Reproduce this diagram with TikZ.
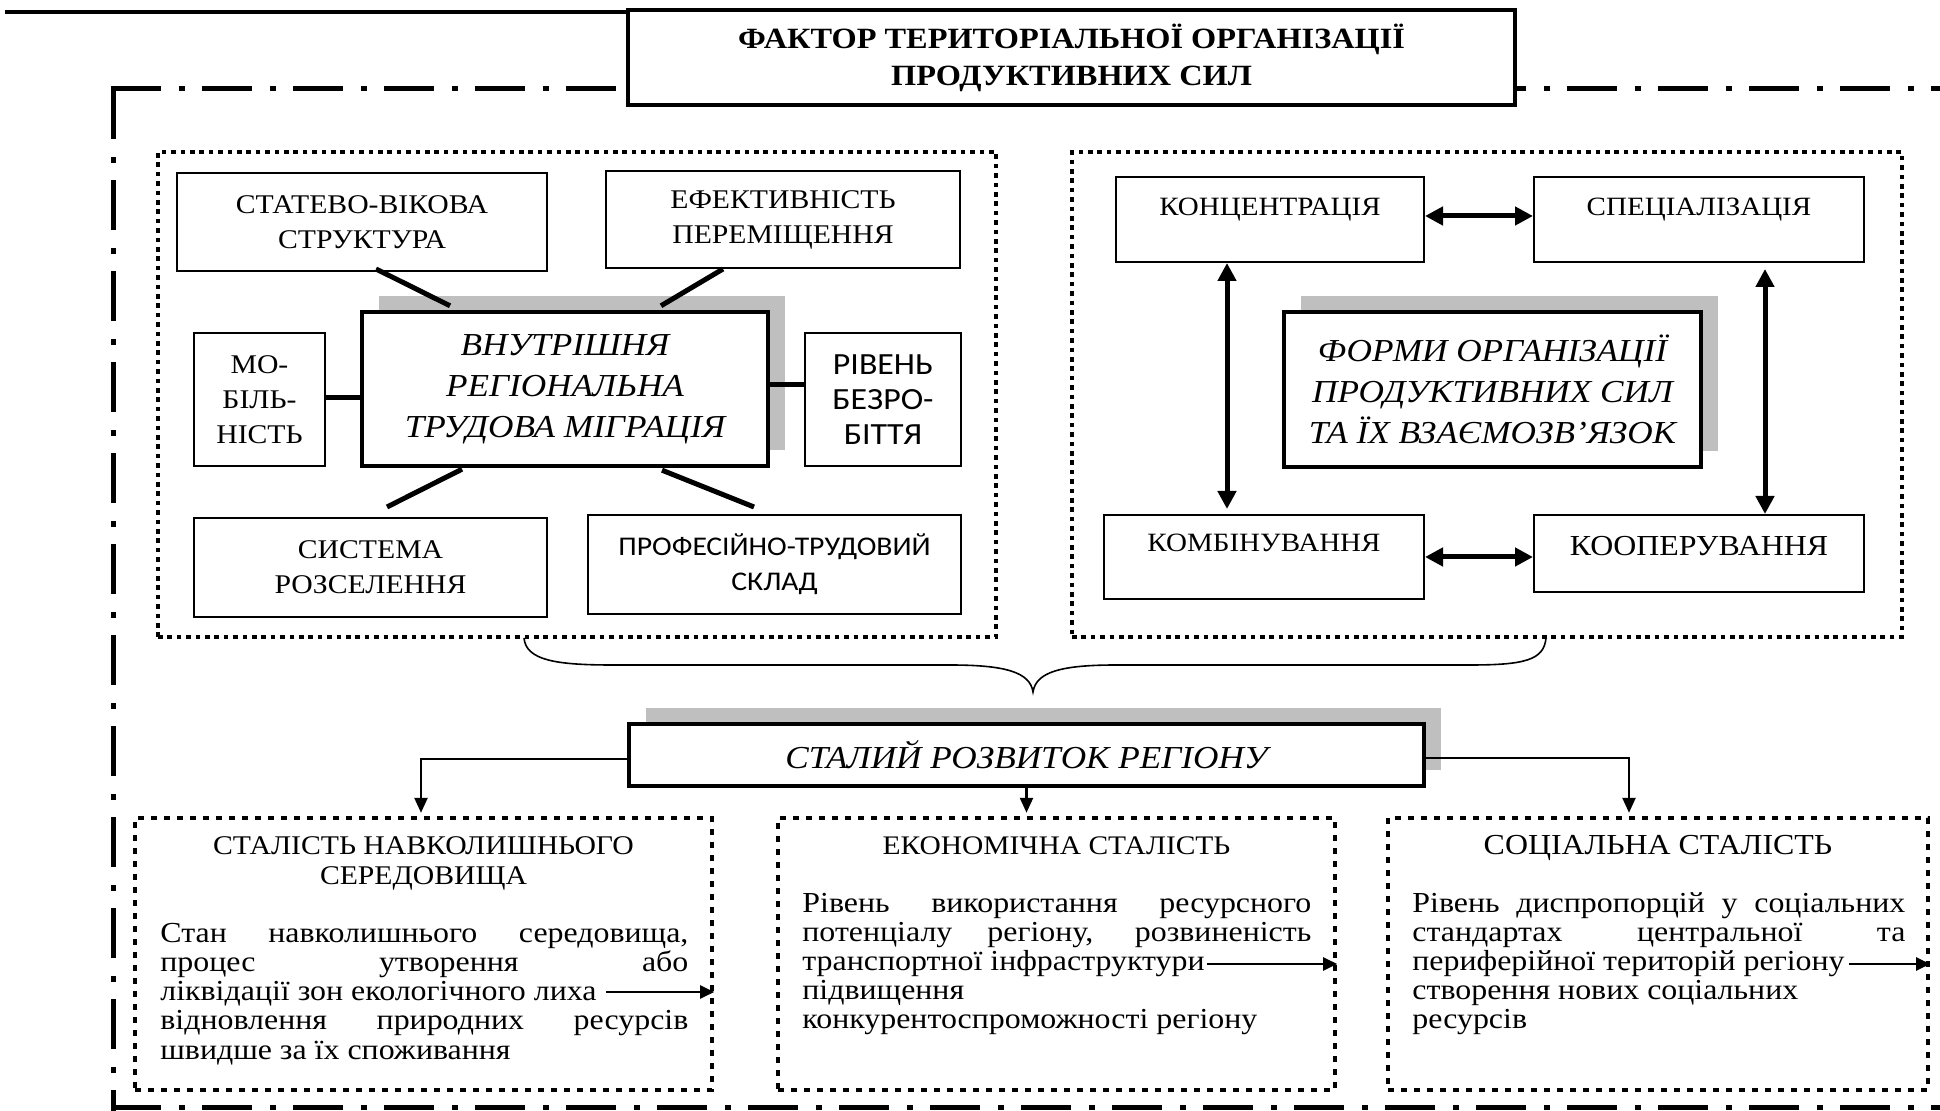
\documentclass[tikz,border=0pt]{standalone}
\usepackage{fontspec}
\setmainfont{Liberation Serif}[FakeStretch=1.1]
\newfontfamily\calib{Carlito}[FakeStretch=1.1]
\usetikzlibrary{arrows.meta,calc,shadows}
\definecolor{shadowgray}{RGB}{191,191,191}
\tikzset{
 frameline/.style={line width=2.5pt, dash pattern=on 25pt off 9pt on 3pt off 8.5pt},
 dotpanel/.style={draw, rectangle, inner sep=0pt, line width=2pt, dash pattern=on 2.3pt off 2.4pt},
 dotpanelb/.style={draw, rectangle, inner sep=0pt, line width=2.2pt, dash pattern=on 3pt off 3.5pt},
 box/.style={draw, rectangle, line width=1pt, fill=white, inner sep=0pt, align=center, font=\fontsize{13.5}{17.5}\selectfont},
 mainbox/.style={draw, rectangle, line width=2.2pt, fill=white, inner sep=0pt, align=center,
   font=\itshape\fontsize{16}{20.5}\selectfont,
   drop shadow={shadow xshift=8.25pt, shadow yshift=7.75pt, fill=shadowgray, opacity=1}},
 link/.style={line width=2.5pt},
 dbl/.style={line width=2.5pt, {Triangle[length=9pt,width=9pt]}-{Triangle[length=9pt,width=9pt]}},
 thinarrow/.style={line width=1.2pt, -{Triangle[length=7.5pt,width=6.5pt]}},
 bodyarrow/.style={line width=1.1pt, -{Triangle[length=7pt,width=6.5pt]}},
 lbl/.style={inner sep=0pt, anchor=base, font=\fontsize{13.2}{16}\selectfont},
 hdr/.style={inner sep=0pt, anchor=base, font=\fontsize{13.5}{15}\selectfont},
 bodyline/.style={inner sep=0pt, anchor=base west, font=\fontsize{14.5}{14.6}\selectfont},
}
\begin{document}
\begin{tikzpicture}[x=0.5pt,y=-0.5pt]
\useasboundingbox (0,0) rectangle (1940,1111);
\clip (0,0) rectangle (1940,1111);

% outer dash-dot frame
\coordinate (fTL) at (111,89);
\coordinate (fTR) at (1960,89);
\coordinate (fLT) at (113,89);
\coordinate (fLB) at (113,1120);
\coordinate (fBL) at (111,1108);
\coordinate (fBR) at (1960,1108);
\draw[frameline] (fTL) -- (fTR);
\draw[frameline] (fLT) -- (fLB);
\draw[frameline] (fBL) -- (fBR);

% title
\node[draw, rectangle, line width=1.8pt, fill=white, inner sep=0pt, minimum width=443.5pt, minimum height=47.5pt,
  align=center, font=\bfseries\fontsize{14.7}{18.5}\selectfont] (title) at (1071.5,57.5)
  {ФАКТОР ТЕРИТОРІАЛЬНОЇ ОРГАНІЗАЦІЇ\\ПРОДУКТИВНИХ СИЛ};
\coordinate (tl0) at (5,12);
\draw[line width=2pt] (tl0) -- (tl0 -| title.west);

% left panel
\node[dotpanel, minimum width=419pt, minimum height=242.5pt] (lp) at (577,394.5) {};
\node[box, minimum width=185pt, minimum height=49pt] (stat) at (362,222) {СТАТЕВО-ВІКОВА\\СТРУКТУРА};
\node[box, minimum width=177pt, minimum height=48.5pt] (efekt) at (783,219.5) {ЕФЕКТИВНІСТЬ\\ПЕРЕМІЩЕННЯ};
\node[box, minimum width=65.5pt, minimum height=66.5pt] (mob) at (259.5,399.5) {МО-\\БІЛЬ-\\НІСТЬ};
\node[box, minimum width=78pt, minimum height=66.5pt, font=\calib\fontsize{15.4}{17.5}\selectfont] (rib) at (883,399.5) {РІВЕНЬ\\БЕЗРО-\\БІТТЯ};
\node[box, minimum width=176.5pt, minimum height=49.5pt] (sys) at (370.5,567.5) {СИСТЕМА\\РОЗСЕЛЕННЯ};
\node[box, minimum width=186.5pt, minimum height=49.5pt, font=\calib\fontsize{13.5}{17.5}\selectfont] (prof) at (774.5,564.5) {ПРОФЕСІЙНО-ТРУДОВИЙ\\СКЛАД};
\node[mainbox, minimum width=203pt, minimum height=77pt] (migr) at (565,389) {ВНУТРІШНЯ\\РЕГІОНАЛЬНА\\ТРУДОВА МІГРАЦІЯ};

\draw[link] ($(stat.south)+(14,-3)$) -- ($(migr.north)+(-115,-4)$);
\draw[link] ($(efekt.south)+(-60,0)$) -- ($(migr.north)+(96,-4)$);
\coordinate (m1) at ($(mob.east)+(0,-1.5)$);
\draw[link] (m1) -- (m1 -| migr.west);
\coordinate (r1) at ($(rib.west)+(0,-14.5)$);
\draw[link] (r1) -- (r1 -| migr.east);
\draw[link] ($(migr.south)+(-103,1)$) -- ($(sys.north)+(16.5,-10)$);
\draw[link] ($(migr.south)+(97,2)$) -- ($(prof.north)+(-20.5,-7)$);

% right panel
\node[dotpanel, minimum width=415pt, minimum height=242.5pt] (rp) at (1487,394.5) {};
\node[box, minimum width=154pt, minimum height=42.5pt] (konc) at (1270,219.5) {};
\node[lbl] (konct) at (1270,215.5) {КОНЦЕНТРАЦІЯ};
\node[box, minimum width=165pt, minimum height=42.5pt] (spec) at (1699,219.5) {};
\node[lbl] (spect) at (1699,215.5) {СПЕЦІАЛІЗАЦІЯ};
\node[box, minimum width=160pt, minimum height=42pt] (komb) at (1264,557) {};
\node[lbl] (kombt) at (1264,551.5) {КОМБІНУВАННЯ};
\node[box, minimum width=165pt, minimum height=38.5pt] (koop) at (1699,553.5) {};
\node[lbl, font=\fontsize{14.5}{16}\selectfont] (koopt) at (1699,556) {КООПЕРУВАННЯ};
\node[mainbox, minimum width=208.5pt, minimum height=77.5pt] (form) at (1492.5,389.5) {ФОРМИ ОРГАНІЗАЦІЇ\\ПРОДУКТИВНИХ СИЛ\\ТА ЇХ ВЗАЄМОЗВ’ЯЗОК};

\coordinate (a1) at ($(konc.east)+(0,-3.5)$);
\draw[dbl] (a1) -- (a1 -| spec.west);
\coordinate (a2) at ($(konc.south)+(-43,0)$);
\draw[dbl, shorten >=2.5pt] (a2) -- (a2 |- komb.north);
\coordinate (a3) at ($(spec.south)+(66,0)$);
\draw[dbl, shorten <=3pt] (a3) -- (a3 |- koop.north);
\coordinate (a4) at (komb.east);
\draw[dbl] (a4) -- (a4 -| koop.west);

% brace
\coordinate (brL) at (524,638);
\coordinate (brM) at (1033,692);
\coordinate (brR) at (1546,638);
\draw[line width=0.8pt] (brL) .. controls (526,660) and (555,665) .. (612,665) -- (950,665)
  .. controls (1005,665) and (1030,672) .. (brM)
  .. controls (1036,672) and (1061,665) .. (1116,665) -- (1470,665)
  .. controls (1525,665) and (1544,660) .. (brR);

% sustainable development
\node[mainbox, minimum width=397.5pt, minimum height=31pt] (sr) at (1026.5,755) {СТАЛИЙ РОЗВИТОК РЕГІОНУ};

% bottom panels
\node[dotpanelb, minimum width=288.5pt, minimum height=136pt] (bl) at (423.5,954) {};
\node[dotpanelb, minimum width=278.5pt, minimum height=136pt] (bm) at (1056.5,954) {};
\node[dotpanelb, minimum width=270pt, minimum height=136pt] (br) at (1658,954) {};

\coordinate (s1) at ($(sr.west)+(0,4)$);
\draw[thinarrow, shorten >=1.5pt] (s1) -| ($(bl.north)+(-2.5,0)$);
\draw[thinarrow, shorten >=1.5pt] (sr.south) -- (sr.south |- bm.north);
\coordinate (s3) at ($(sr.east)+(0,3)$);
\draw[thinarrow, shorten >=1.5pt] (s3) -| ($(br.north)+(-29,0)$);

% headers
\node[hdr] (blh1) at (423.5,855) {СТАЛІСТЬ НАВКОЛИШНЬОГО};
\node[hdr] (blh2) at (423.5,885) {СЕРЕДОВИЩА};
\node[hdr, font=\fontsize{13.4}{15}\selectfont] (bmh) at (1056.5,855) {ЕКОНОМІЧНА СТАЛІСТЬ};
\node[hdr, font=\fontsize{14.5}{15}\selectfont] (brh) at (1658,855) {СОЦІАЛЬНА СТАЛІСТЬ};

% left body
\begin{scope}[every node/.append style={font=\fontsize{14}{14.6}\selectfont}]
\node[bodyline] (bl1) at (160,943) {\makebox[264pt][s]{Стан навколишнього середовища,}};
\node[bodyline] (bl2) at (160,972) {\makebox[264pt][s]{процес утворення або}};
\node[bodyline] (bl3) at (160,1001) {ліквідації зон екологічного лиха};
\node[bodyline] (bl4) at (160,1030) {\makebox[264pt][s]{відновлення природних ресурсів}};
\node[bodyline] (bl5) at (160,1059) {швидше за їх споживання};
\end{scope}
\coordinate (bla) at ($(bl3.base east)+(9,-9)$);
\draw[bodyarrow] (bla) -- (bla -| bl.east);

% middle body
\node[bodyline] (bm1) at (802,913) {\makebox[254.5pt][s]{Рівень використання ресурсного}};
\node[bodyline] (bm2) at (802,942) {\makebox[254.5pt][s]{потенціалу регіону, розвиненість}};
\node[bodyline] (bm3) at (802,971) {транспортної інфраструктури};
\node[bodyline] (bm4) at (802,1000) {підвищення};
\node[bodyline] (bm5) at (802,1029) {конкурентоспроможності регіону};
\coordinate (bma) at ($(bm3.base east)+(2,-7)$);
\draw[bodyarrow] (bma) -- (bma -| bm.east);

% right body
\node[bodyline] (br1) at (1412,913) {\makebox[246.5pt][s]{Рівень диспропорцій у соціальних}};
\node[bodyline] (br2) at (1412,942) {\makebox[246.5pt][s]{стандартах центральної та}};
\node[bodyline] (br3) at (1412,971) {периферійної територій регіону};
\node[bodyline] (br4) at (1412,1000) {створення нових соціальних};
\node[bodyline] (br5) at (1412,1029) {ресурсів};
\coordinate (bra) at ($(br3.base east)+(4,-7)$);
\draw[bodyarrow] (bra) -- (bra -| br.east);
\end{tikzpicture}
\end{document}
